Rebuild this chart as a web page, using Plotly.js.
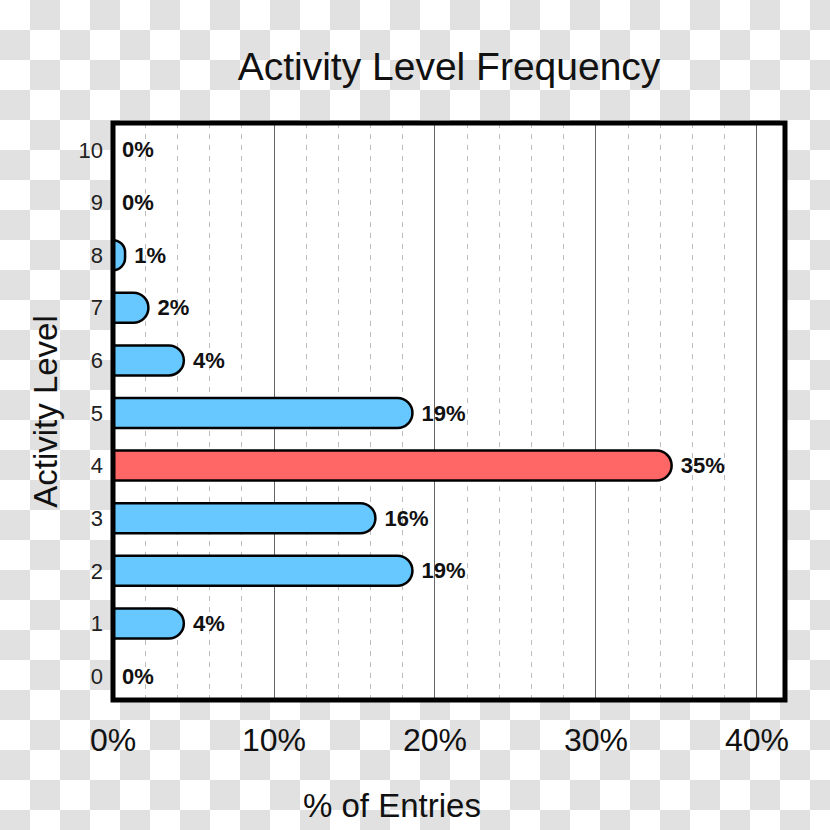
<!DOCTYPE html>
<html>
<head>
<meta charset="utf-8">
<script src="https://cdn.plot.ly/plotly-3.0.1.min.js"></script>
<style>
  html, body { margin: 0; padding: 0; }
  body {
    width: 830px; height: 830px;
    background-color: #ffffff;
    background-image: conic-gradient(#e1e1e1 25%, transparent 0 50%, #e1e1e1 0 75%, transparent 0);
    background-size: 60px 60px;
  }
  #chart { width: 830px; height: 830px; }
</style>
</head>
<body>
<div id="chart"></div>
<script>
// ---- data ----
const levels = [0, 1, 2, 3, 4, 5, 6, 7, 8, 9, 10];
const percentOfEntries = [0, 4.4, 18.6, 16.3, 34.7, 18.6, 4.4, 2.2, 0.75, 0, 0];
const valueLabels = ['0%', '4%', '19%', '16%', '35%', '19%', '4%', '2%', '1%', '0%', '0%'];
const highlightLevel = 4;
const xTickValues = [0, 10, 20, 30, 40];
const xTickLabels = ['0%', '10%', '20%', '30%', '40%'];

const barColors = levels.map(l => l === highlightLevel ? '#ff6666' : '#66c8ff');

const trace = {
  type: 'bar',
  orientation: 'h',
  x: percentOfEntries,
  y: levels,
  width: 0.57,
  marker: {
    color: barColors,
    line: { color: '#000000', width: 2.5 },
    cornerradius: 16
  },
  text: valueLabels.map(t => '\u00a0' + t),
  textposition: 'outside',
  constraintext: 'none',
  cliponaxis: false,
  textfont: { family: 'Liberation Sans, Arial, sans-serif', size: 22, color: '#111111', weight: 'bold' },
  hoverinfo: 'skip'
};

const layout = {
  width: 830, height: 830,
  paper_bgcolor: 'rgba(0,0,0,0)',
  plot_bgcolor: '#ffffff',
  margin: { l: 113, r: 45, t: 123, b: 130 },
  showlegend: false,
  font: { family: 'Liberation Sans, Arial, sans-serif', color: '#111111' },
  title: {
    text: 'Activity Level Frequency',
    font: { size: 39, color: '#111111' },
    x: 449 / 830, xanchor: 'center', xref: 'container',
    y: 1 - 66 / 830, yanchor: 'middle', yref: 'container'
  },
  xaxis: {
    range: [0, 41.74],
    tickvals: xTickValues,
    ticktext: xTickLabels,
    ticks: '',
    tickfont: { size: 32, color: '#111111' },
    ticklabelstandoff: 18,
    showgrid: true,
    gridcolor: '#666666',
    gridwidth: 1,
    zeroline: false,
    showline: false,
    minor: { dtick: 2, showgrid: true, gridcolor: '#bdbdbd', gridwidth: 1, griddash: '5px,6px', ticks: '' }
  },
  yaxis: {
    range: [-0.456, 10.513],
    tickvals: levels,
    ticks: '',
    tickfont: { size: 22, color: '#222222' },
    showgrid: false,
    zeroline: false,
    showline: false,
    ticklabelstandoff: 9,
    title: { text: 'Activity Level', font: { size: 33, color: '#111111' }, standoff: 10 }
  },
  shapes: [{
    type: 'rect', xref: 'paper', yref: 'paper',
    x0: 0, x1: 1, y0: 0, y1: 1,
    line: { color: '#000000', width: 5 },
    layer: 'above'
  }],
  annotations: [{
    text: '% of Entries',
    xref: 'paper', yref: 'paper',
    x: (392 - 113) / (830 - 113 - 45), y: (700 - 805) / (830 - 123 - 130),
    xanchor: 'center', yanchor: 'middle',
    showarrow: false,
    font: { size: 33, color: '#111111' }
  }]
};

Plotly.newPlot('chart', [trace], layout, { displayModeBar: false, staticPlot: true });
</script>
</body>
</html>
